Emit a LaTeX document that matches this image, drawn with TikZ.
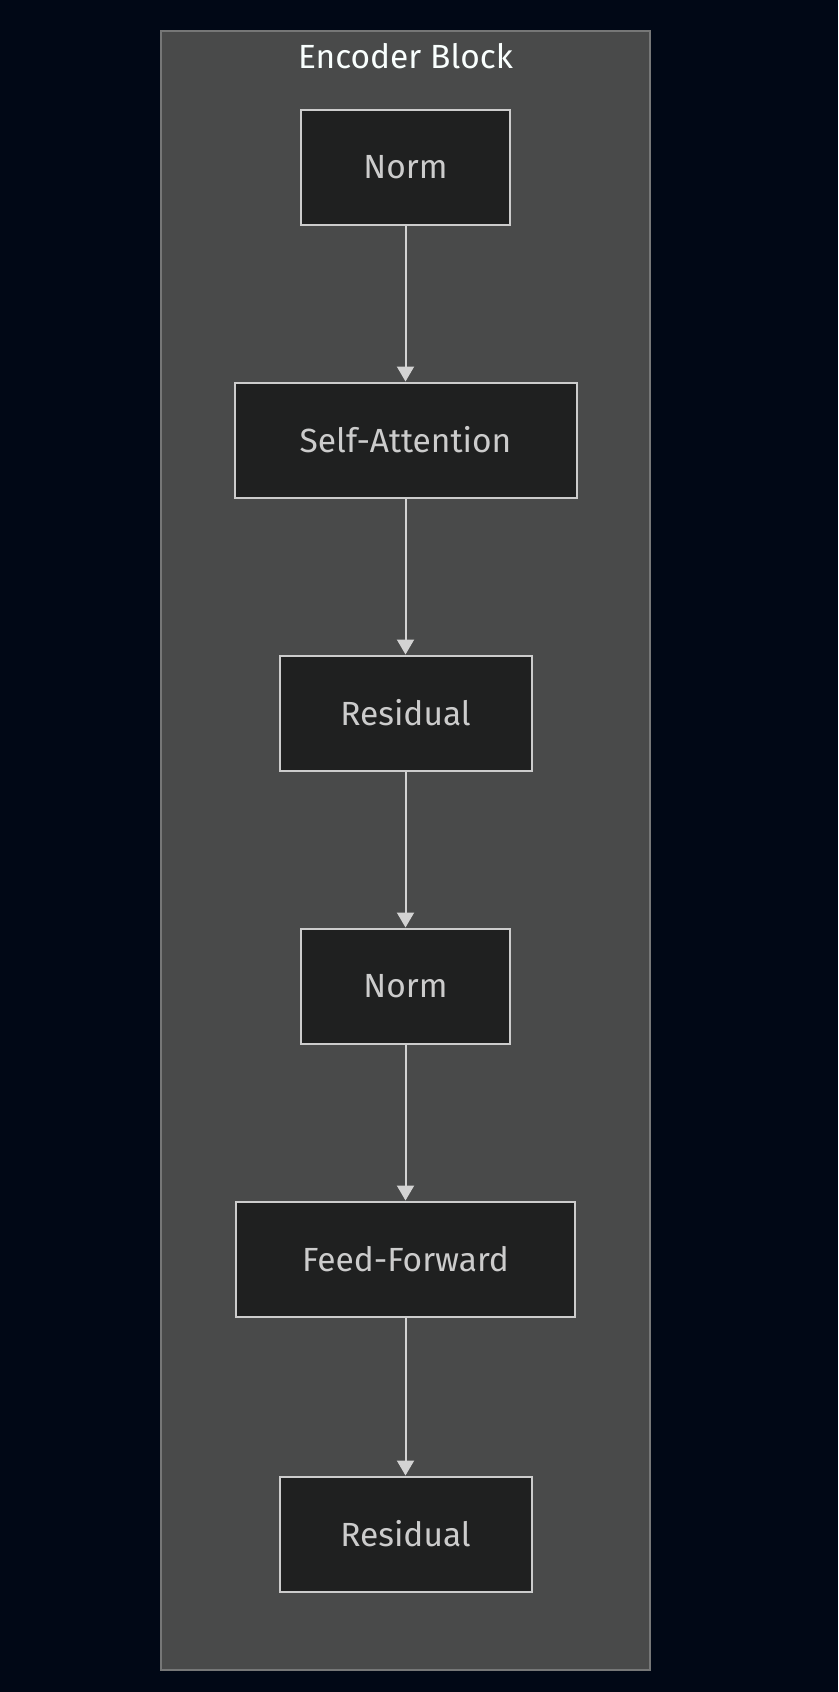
\documentclass[tikz,border=0pt]{standalone}
\usepackage{fontspec}
\setmainfont{Fira Sans}
\usetikzlibrary{graphs,arrows.meta}

\definecolor{pagebg}{RGB}{1,8,22}
\definecolor{clusterbg}{RGB}{73,74,74}
\definecolor{clusterline}{RGB}{118,119,119}
\definecolor{nodebg}{HTML}{1F2020}
\definecolor{nodeline}{HTML}{CCCCCC}
\definecolor{flowline}{HTML}{D3D3D3}
\definecolor{titletext}{HTML}{F9FFFE}

\tikzset{
  blk/.style={draw=nodeline,fill=nodebg,line width=2pt,text=nodeline,
              minimum height=115pt,inner sep=0pt,font=\fontsize{33.5}{38}\selectfont},
  flow/.style={draw=flowline,line width=2pt,-{Triangle[width=17pt,length=15pt]}}
}

\begin{document}
\begin{tikzpicture}[x=1pt,y=-1pt]
\fill[pagebg] (0,0) rectangle (838,1692);
\useasboundingbox (0,0) rectangle (838,1692);
\filldraw[fill=clusterbg,draw=clusterline,line width=1.5pt] (161,31) rectangle (650,1670);
\node (title) [text=titletext,font=\fontsize{33.5}{38}\selectfont,anchor=base] at (405.5,68) {Encoder Block};

\graph [no placement, nodes={blk}, edges={flow}]
{
      norm1[at={(405.5,167)}, minimum width=209pt, as=Norm],
   selfattn[at={(405.5,440)}, minimum width=342pt, as=Self-Attention],
       res1[at={(405.5,713)}, minimum width=252pt, as=Residual],
      norm2[at={(405.5,986)}, minimum width=209pt, as=Norm],
     ffwd[at={(405.5,1259)}, minimum width=339pt, as=Feed-Forward],
       res2[at={(405.5,1534)}, minimum width=252pt, as=Residual],

  norm1 -> selfattn -> res1 -> norm2 -> ffwd -> res2
};
\end{tikzpicture}
\end{document}
